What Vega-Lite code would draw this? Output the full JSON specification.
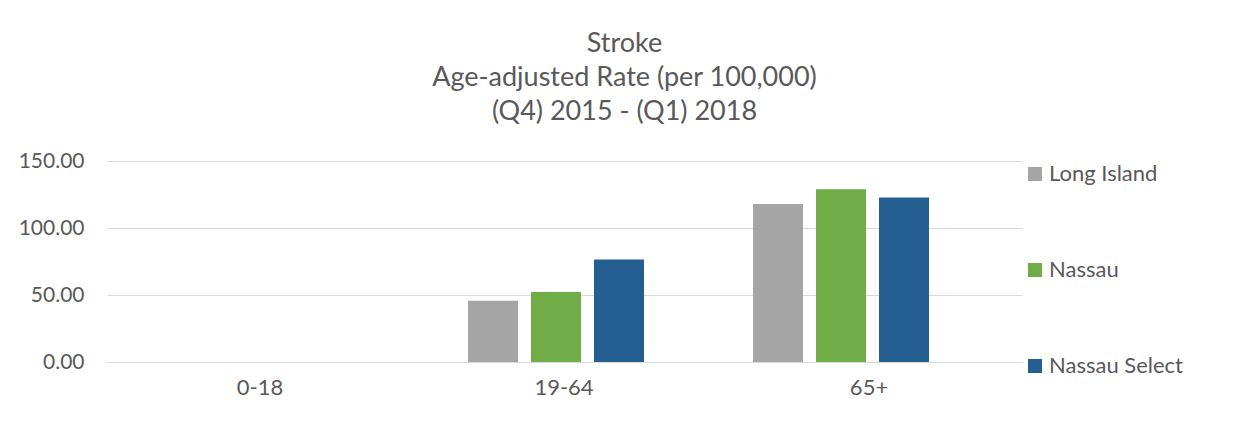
{
  "$schema": "https://vega.github.io/schema/vega-lite/v6.json",
  "autosize": {"type": "none"},
  "width": 915,
  "height": 201,
  "padding": {"left": 107, "top": 161, "right": 225, "bottom": 61},
  "background": "white",
  "config": {
    "view": {"stroke": null},
    "font": "Lato",
    "text": {"font": "Lato"}
  },
  "title": {
    "text": ["Stroke", "Age-adjusted Rate (per 100,000)", "(Q4) 2015 - (Q1) 2018"],
    "font": "Lato",
    "fontSize": 27,
    "fontWeight": "normal",
    "color": "#595959",
    "lineHeight": 34,
    "anchor": "middle",
    "frame": "group",
    "dx": 60,
    "offset": 24
  },
  "data": {
    "values": [
      {"age": "0-18", "region": "Long Island", "rate": 0},
      {"age": "0-18", "region": "Nassau", "rate": 0},
      {"age": "0-18", "region": "Nassau Select", "rate": 0},
      {"age": "19-64", "region": "Long Island", "rate": 45.8},
      {"age": "19-64", "region": "Nassau", "rate": 52.2},
      {"age": "19-64", "region": "Nassau Select", "rate": 76.4},
      {"age": "65+", "region": "Long Island", "rate": 117.9},
      {"age": "65+", "region": "Nassau", "rate": 128.9},
      {"age": "65+", "region": "Nassau Select", "rate": 122.7}
    ]
  },
  "mark": {"type": "bar"},
  "encoding": {
    "x": {
      "field": "age",
      "type": "nominal",
      "sort": ["0-18", "19-64", "65+"],
      "scale": {"paddingInner": 0.337, "paddingOuter": 0.2737, "align": 0.4455},
      "axis": {
        "title": null,
        "domain": false,
        "ticks": false,
        "labelAngle": 0,
        "labelFont": "Lato",
        "labelFontSize": 22,
        "labelColor": "#595959",
        "labelPadding": 15,
        "labelOffset": {
          "condition": [
            {"test": "datum.value == '0-18'", "value": -11},
            {"test": "datum.value == '19-64'", "value": 8}
          ],
          "value": 28
        }
      }
    },
    "xOffset": {
      "field": "region",
      "type": "nominal",
      "sort": ["Long Island", "Nassau", "Nassau Select"],
      "scale": {"paddingInner": 0.206, "paddingOuter": 0.103}
    },
    "y": {
      "field": "rate",
      "type": "quantitative",
      "scale": {"domain": [0, 150], "nice": false},
      "axis": {
        "title": null,
        "values": [0, 50, 100, 150],
        "format": ".2f",
        "domain": false,
        "ticks": false,
        "labelFont": "Lato",
        "labelFontSize": 21,
        "labelColor": "#595959",
        "labelPadding": 23,
        "gridColor": "#d9d9d9",
        "gridWidth": 1.2
      }
    },
    "color": {
      "field": "region",
      "type": "nominal",
      "sort": ["Long Island", "Nassau", "Nassau Select"],
      "scale": {
        "domain": ["Long Island", "Nassau", "Nassau Select"],
        "range": ["#a5a5a5", "#70ad47", "#255e91"]
      },
      "legend": {
        "title": null,
        "orient": "right",
        "offset": 0,
        "symbolType": "square",
        "symbolSize": 196,
        "symbolStrokeWidth": 0,
        "labelFont": "Lato",
        "labelFontSize": 22,
        "labelColor": "#595959",
        "labelOffset": 3,
        "rowPadding": 74,
        "padding": 2
      }
    }
  }
}
